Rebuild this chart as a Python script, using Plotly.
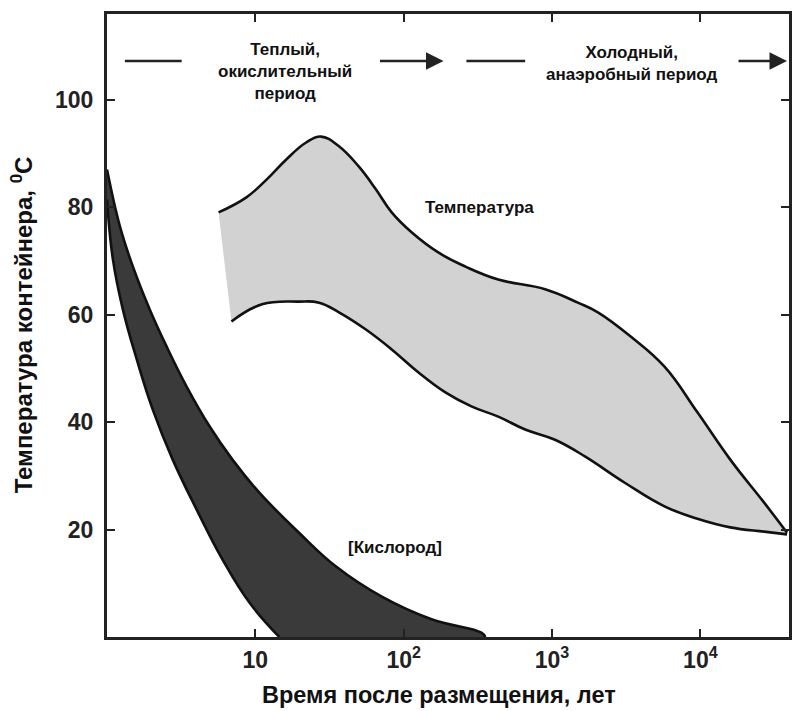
import plotly.graph_objects as go

# Temperature band (years, °C)
temp_upper_x = [5.65, 8.7, 11.9, 16.1, 22.0, 27.7, 36.6, 49.9, 64.9, 83.0, 113, 172, 261, 434, 898, 1494, 2037, 3390, 5730, 9550, 15900, 26900, 38400]
temp_upper_y = [79.0, 81.8, 85.1, 88.8, 92.0, 93.1, 91.3, 87.5, 83.3, 79.0, 75.3, 71.5, 68.9, 66.5, 64.7, 62.2, 60.4, 55.9, 50.3, 41.8, 33.0, 25.0, 19.4]
temp_lower_x = [6.9, 11.1, 19.7, 26.9, 36.6, 55.6, 83.0, 126, 191, 286, 434, 659, 1047, 1665, 3090, 5730, 9550, 15900, 26900, 38400]
temp_lower_y = [58.7, 61.9, 62.4, 62.2, 60.4, 57.2, 53.5, 49.2, 45.5, 42.9, 41.0, 38.6, 36.7, 33.6, 28.7, 24.3, 22.0, 20.4, 19.6, 19.1]

# Oxygen band
oxy_upper_x = [1.0, 1.222, 1.495, 1.944, 2.527, 3.44, 4.91, 7.01, 10.6, 19.7, 35.0, 71.2, 154, 334, 355]
oxy_upper_y = [87.0, 76.4, 68.9, 60.9, 54.0, 46.6, 39.2, 33.0, 26.9, 19.4, 13.1, 7.5, 3.3, 0.8, 0.0]
oxy_lower_x = [1.0, 1.097, 1.28, 1.589, 2.035, 2.773, 4.02, 6.01, 9.12, 14.5]
oxy_lower_y = [81.4, 70.2, 60.9, 51.6, 42.3, 33.0, 23.7, 14.4, 6.4, 0.0]

x_tickvals = [10, 100, 1000, 10000]
x_ticktext = ["10", "10<sup>2</sup>", "10<sup>3</sup>", "10<sup>4</sup>"]
y_tickvals = [20, 40, 60, 80, 100]

FONT = "Liberation Sans, Arial, sans-serif"
LINE = "#111111"
SPL = dict(color=LINE, width=2.6, shape="spline", smoothing=1.2)

fig = go.Figure()
fig.add_trace(go.Scatter(x=oxy_lower_x, y=oxy_lower_y, mode="lines", line=SPL))
fig.add_trace(go.Scatter(x=oxy_upper_x, y=oxy_upper_y, mode="lines", fill="tonexty",
                         fillcolor="#3a3a3a", line=SPL))
fig.add_trace(go.Scatter(x=temp_lower_x, y=temp_lower_y, mode="lines", line=SPL))
fig.add_trace(go.Scatter(x=temp_upper_x, y=temp_upper_y, mode="lines", fill="tonexty",
                         fillcolor="#d2d2d2", line=SPL))

W, H = 792, 711
L, R, T, B = 107, 0, 14, 74
pw, ph = W - L - R, H - T - B


def px(x):
    return (x - L) / pw


def py(y):
    return (H - B - y) / ph


def label(x, y, text, size, angle=0):
    return dict(x=px(x), y=py(y), xref="paper", yref="paper", showarrow=False,
                xanchor="center", yanchor="middle", text=text, align="center",
                textangle=angle,
                font=dict(family=FONT, size=size, color="#111", weight="bold"))


ydec = py(61)
shapes = [
    dict(type="line", xref="paper", yref="paper", x0=px(125), x1=px(182), y0=ydec, y1=ydec,
         line=dict(color="#222", width=2.5)),
    dict(type="line", xref="paper", yref="paper", x0=px(468), x1=px(527), y0=ydec, y1=ydec,
         line=dict(color="#222", width=2.5)),
]

annotations = [
    dict(x=px(445), y=ydec, xref="paper", yref="paper", ax=-65, ay=0, text="",
         showarrow=True, arrowhead=2, arrowsize=1.4, arrowwidth=2.5, arrowcolor="#222"),
    dict(x=px(790), y=ydec, xref="paper", yref="paper", ax=-50, ay=0, text="",
         showarrow=True, arrowhead=2, arrowsize=1.4, arrowwidth=2.5, arrowcolor="#222"),
    label(286, 72, "Теплый,<br>окислительный<br>период", 17),
    label(634, 64, "Холодный,<br>анаэробный период", 17),
    label(481, 207, "Температура", 17),
    label(396, 547, "[Кислород]", 17),
    label(440, 695, "Время после размещения, лет", 23.5),
    label(22, 325, "Температура контейнера, <sup>0</sup>C", 24, angle=-90),
]

fig.update_layout(
    width=W, height=H,
    margin=dict(l=L, r=R, t=T, b=B, pad=0),
    paper_bgcolor="white", plot_bgcolor="white",
    showlegend=False,
    shapes=shapes, annotations=annotations,
    font=dict(family=FONT, color="#111"),
)
fig.update_xaxes(type="log", range=[0, (W - L) / 149.0], tickvals=x_tickvals, ticktext=x_ticktext,
                 ticks="inside", ticklen=8, tickwidth=2, tickcolor="#222",
                 showline=True, linewidth=3, linecolor="#222", mirror="ticks",
                 showgrid=False, zeroline=False,
                 tickfont=dict(family=FONT, size=23, color="#222", weight="bold"))
fig.update_yaxes(range=[0, (H - B - T) / 5.375], tickvals=y_tickvals,
                 ticks="inside", ticklen=8, tickwidth=2, tickcolor="#222",
                 showline=True, linewidth=3, linecolor="#222", mirror="ticks",
                 showgrid=False, zeroline=False, ticklabelstandoff=6,
                 tickfont=dict(family=FONT, size=23, color="#222", weight="bold"))

fig.write_html("out.html")
